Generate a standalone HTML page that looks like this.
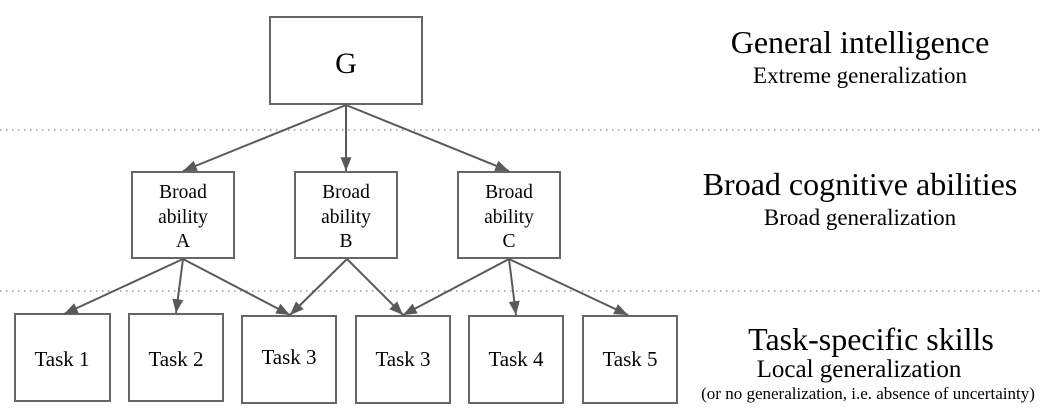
<!DOCTYPE html>
<html><head><meta charset="utf-8"><style>
body{margin:0;background:#fff}
svg{display:block}
text{font-family:"Liberation Serif",serif;fill:#000}
</style></head><body>
<svg width="1040" height="415" viewBox="0 0 1040 415" xmlns="http://www.w3.org/2000/svg">
<defs>
<marker id="b" viewBox="0 0 10 8" markerWidth="14" markerHeight="11" refX="10" refY="4" orient="auto" markerUnits="userSpaceOnUse"><path d="M0,0 L10,4 L0,8 z" fill="#595959"/></marker></defs>
<g stroke="#999" stroke-width="1.5" stroke-dasharray="1.5,4.5"><line x1="0" y1="130" x2="1040" y2="130"/><line x1="0" y1="291" x2="1040" y2="291"/></g>
<g fill="#fff" stroke="#666" stroke-width="2">
<rect x="270" y="17" width="152" height="87"/>
<rect x="132" y="172" width="102" height="86"/>
<rect x="295" y="172" width="102" height="86"/>
<rect x="458" y="172" width="102" height="86"/>
<rect x="15" y="314" width="95" height="87"/>
<rect x="129" y="314" width="94" height="87"/>
<rect x="242" y="316" width="94" height="87"/>
<rect x="356" y="316" width="94" height="87"/>
<rect x="469" y="316" width="94" height="87"/>
<rect x="583" y="316" width="94" height="87"/>
</g>
<g stroke="#595959" stroke-width="2" marker-end="url(#b)">
<line x1="346" y1="105" x2="183" y2="171"/>
<line x1="346" y1="105" x2="346" y2="171"/>
<line x1="346" y1="105" x2="509" y2="171"/>
<line x1="183" y1="259" x2="64" y2="314"/>
<line x1="183" y1="259" x2="176" y2="313"/>
<line x1="183" y1="259" x2="290" y2="315"/>
<line x1="347" y1="259" x2="290" y2="315"/>
<line x1="347" y1="259" x2="403" y2="315"/>
<line x1="509" y1="259" x2="403" y2="315"/>
<line x1="509" y1="259" x2="516" y2="315"/>
<line x1="509" y1="259" x2="628" y2="315"/>
</g>
<g text-anchor="middle">
<text x="346" y="73" font-size="30">G</text>
<g font-size="19.5">
<text x="183" y="198">Broad</text><text x="183" y="223">ability</text><text x="183" y="247">A</text>
<text x="346" y="198">Broad</text><text x="346" y="223">ability</text><text x="346" y="247">B</text>
<text x="509" y="198">Broad</text><text x="509" y="223">ability</text><text x="509" y="247">C</text>
</g>
<g font-size="21">
<text x="62" y="366">Task 1</text><text x="176" y="366">Task 2</text><text x="289" y="364">Task 3</text>
<text x="403" y="366">Task 3</text><text x="516" y="366">Task 4</text><text x="630" y="366">Task 5</text>
</g>
<text x="860" y="53" font-size="32">General intelligence</text>
<text x="860" y="83" font-size="23">Extreme generalization</text>
<text x="860" y="195" font-size="32">Broad cognitive abilities</text>
<text x="860" y="225" font-size="23">Broad generalization</text>
<text x="871" y="350" font-size="32">Task-specific skills</text>
<text x="859" y="377" font-size="25">Local generalization</text>
<text x="868" y="399" font-size="17">(or no generalization, i.e. absence of uncertainty)</text>
</g>
</svg>
</body></html>
